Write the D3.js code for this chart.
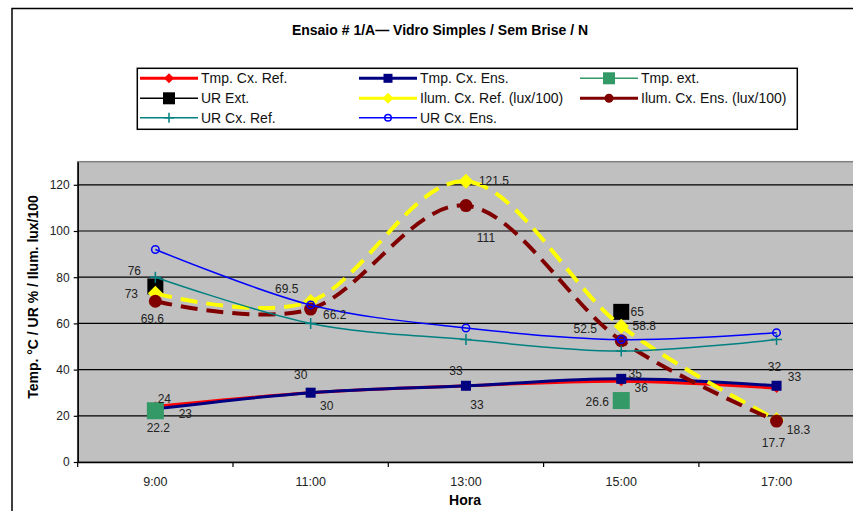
<!DOCTYPE html>
<html>
<head>
<meta charset="utf-8">
<script src="https://cdn.jsdelivr.net/npm/d3@7"></script>
<style>
  html, body { margin: 0; padding: 0; background: #ffffff; }
  svg { display: block; font-family: "Liberation Sans", Arial, Helvetica, sans-serif; }
</style>
</head>
<body>
<svg id="chart" width="853" height="511"></svg>
<script>
// ---------- data ----------
const title = "Ensaio # 1/A\u2014 Vidro Simples / Sem Brise / N";
const categories = ["9:00", "11:00", "13:00", "15:00", "17:00"];
const yTicks = [0, 20, 40, 60, 80, 100, 120];
const seriesNames = ["Tmp. Cx. Ref.", "Tmp. Cx. Ens.", "Tmp. ext.", "UR Ext.",
  "Ilum. Cx. Ref. (lux/100)", "Ilum. Cx. Ens. (lux/100)", "UR Cx. Ref.", "UR Cx. Ens."];
const tmpCxRef  = [24, 30, 33, 35, 32];
const tmpCxEns  = [23, 30, 33, 36, 33];
const tmpExt    = [22.2, null, null, 26.6, null];
const urExt     = [76, null, null, 65, null];
const ilumCxRef = [73, 69.5, 121.5, 58.8, 18.3];
const ilumCxEns = [69.6, 66.2, 111, 52.5, 17.7];
const urCxRef   = [80, 60, 53, 48, 53];
const urCxEns   = [92, 68, 58, 53, 56];
const yLabel = "Temp. \u00b0C / UR % / Ilum. lux/100";
const xLabel = "Hora";

// label offsets (layout only, px from the point)
const lblTmpCxRef  = [[9,-8],[-10,-18],[-10,-15],[14,-7],[-2,-21]];
const lblTmpCxEns  = [[30,5],[16,13],[11,19],[20,9],[18,-9]];
const lblTmpExt    = [[3,17],null,null,[-24,1],null];
const lblUrExt     = [[-21,-16],null,null,[16,0],null];
const lblIlumCxRef = [[-24,0],[-24,-13],[28,-1],[23,0],[22,10]];
const lblIlumCxEns = [[-3,18],[24,6],[20,32],[-36,-12],[-3,22]];

// ---------- styles ----------
const series = [
  {name: seriesNames[0], values: tmpCxRef,  color: "#ff0000", width: 3,   dash: null,  marker: "diamond", msize: 10, lwidth: 3,   labels: lblTmpCxRef, lmsize: 10},
  {name: seriesNames[1], values: tmpCxEns,  color: "#000080", width: 3,   dash: null,  marker: "square",  msize: 10, lwidth: 3,   labels: lblTmpCxEns, lmsize: 9},
  {name: seriesNames[2], values: tmpExt,    color: "#339966", width: 1.5, dash: null,  marker: "square",  msize: 17, lwidth: 1.5, labels: lblTmpExt, lmsize: 12},
  {name: seriesNames[3], values: urExt,     color: "#000000", width: 1.5, dash: null,  marker: "square",  msize: 16, lwidth: 1.5, labels: lblUrExt, lmsize: 12},
  {name: seriesNames[4], values: ilumCxRef, color: "#ffff00", width: 4,   dash: "17,9", marker: "diamond", msize: 15, lwidth: 3,  labels: lblIlumCxRef, lmsize: 11},
  {name: seriesNames[5], values: ilumCxEns, color: "#800000", width: 4,   dash: "17,9", marker: "circle",  msize: 13, lwidth: 3,  labels: lblIlumCxEns, lmsize: 9},
  {name: seriesNames[6], values: urCxRef,   color: "#008080", width: 1.5, dash: null,  marker: "plus",    msize: 11, lwidth: 1.5, labels: null, lmsize: 10},
  {name: seriesNames[7], values: urCxEns,   color: "#0000ff", width: 1.5, dash: null,  marker: "ocircle", msize: 9,  lwidth: 1.5, labels: null, lmsize: 8}
];

const svg = d3.select("#chart");
const plot = {left: 77.7, top: 161.7, right: 854.2, bottom: 462};

// outer frame
svg.append("rect").attr("x", 12).attr("y", 8.5).attr("width", 850).attr("height", 520)
  .attr("fill", "#fff").attr("stroke", "#000").attr("stroke-width", 1.5);

// title
svg.append("text").attr("x", 440).attr("y", 30).attr("dy", "0.35em")
  .attr("text-anchor", "middle").attr("font-size", 14).attr("font-weight", "bold")
  .text(title);

// scales
const x = d3.scaleBand().domain(categories).range([plot.left, plot.right]).paddingInner(0).paddingOuter(0);
const y = d3.scaleLinear().domain([0, 130]).range([plot.bottom, plot.top]);
const cx = c => x(c) + x.bandwidth() / 2;

// plot background
svg.append("rect").attr("x", plot.left).attr("y", plot.top)
  .attr("width", plot.right - plot.left).attr("height", plot.bottom - plot.top)
  .attr("fill", "#c0c0c0").attr("stroke", "#808080").attr("stroke-width", 1.5);

// gridlines
svg.append("g").selectAll("line").data(yTicks.filter(t => t > 0)).join("line")
  .attr("x1", plot.left).attr("x2", plot.right)
  .attr("y1", d => y(d)).attr("y2", d => y(d))
  .attr("stroke", "#000").attr("stroke-width", 1.2);

// y axis
const yAxis = svg.append("g").attr("transform", `translate(${plot.left},0)`)
  .call(d3.axisLeft(y).tickValues(yTicks).tickSize(4).tickPadding(4).tickSizeOuter(0));
yAxis.select(".domain").attr("stroke", "#000").attr("stroke-width", 1.5);
yAxis.selectAll(".tick line").attr("stroke-width", 1.2);
yAxis.selectAll("text").attr("font-size", 12).attr("font-family", "Liberation Sans, Arial, sans-serif").attr("fill", "#222");

// x axis
const xAxis = svg.append("g").attr("transform", `translate(0,${plot.bottom})`)
  .call(d3.axisBottom(x).tickSize(0).tickPadding(15).tickSizeOuter(0));
xAxis.select(".domain").attr("stroke", "#000").attr("stroke-width", 1.5);
xAxis.selectAll("text").attr("font-size", 12.5).attr("font-family", "Liberation Sans, Arial, sans-serif").attr("fill", "#222");
// tick marks between categories
svg.append("g").selectAll("line").data(categories).join("line")
  .attr("x1", d => x(d)).attr("x2", d => x(d))
  .attr("y1", plot.bottom).attr("y2", plot.bottom + 5)
  .attr("stroke", "#000").attr("stroke-width", 1.2);

// axis titles
svg.append("text").attr("transform", "translate(33,297) rotate(-90)").attr("dy", "0.35em")
  .attr("text-anchor", "middle").attr("font-size", 14).attr("font-weight", "bold").text(yLabel);
svg.append("text").attr("x", 465).attr("y", 500).attr("dy", "0.35em")
  .attr("text-anchor", "middle").attr("font-size", 14).attr("font-weight", "bold").text(xLabel);

// marker drawing
function drawMarker(g, type, px, py, size, color) {
  const h = size / 2;
  if (type === "diamond") {
    g.append("path").attr("d", `M${px},${py-h}L${px+h},${py}L${px},${py+h}L${px-h},${py}Z`).attr("fill", color);
  } else if (type === "square") {
    g.append("rect").attr("x", px-h).attr("y", py-h).attr("width", size).attr("height", size).attr("fill", color);
  } else if (type === "circle") {
    g.append("circle").attr("cx", px).attr("cy", py).attr("r", h).attr("fill", color);
  } else if (type === "ocircle") {
    g.append("circle").attr("cx", px).attr("cy", py).attr("r", h - 0.75).attr("fill", "none")
      .attr("stroke", color).attr("stroke-width", 1.5);
  } else if (type === "plus") {
    g.append("path").attr("d", `M${px-h},${py}H${px+h}M${px},${py-h}V${py+h}`)
      .attr("stroke", color).attr("stroke-width", 1.5).attr("fill", "none");
  }
}

// series lines + markers
const line = d3.line()
  .x(d => cx(d.c)).y(d => y(d.v))
  .curve(d3.curveCatmullRom.alpha(0));

series.forEach(s => {
  const pts = categories.map((c, i) => ({c, v: s.values[i]}));
  const g = svg.append("g");
  if (pts.every(p => p.v !== null)) {
    g.append("path").attr("d", line(pts)).attr("fill", "none")
      .attr("stroke", s.color).attr("stroke-width", s.width)
      .attr("stroke-dasharray", s.dash).attr("stroke-linejoin", "round");
  }
  pts.forEach(p => { if (p.v !== null) drawMarker(g, s.marker, cx(p.c), y(p.v), s.msize, s.color); });
});

// data labels
series.forEach(s => {
  if (!s.labels) return;
  categories.forEach((c, i) => {
    const v = s.values[i], off = s.labels[i];
    if (v === null || !off) return;
    svg.append("text").attr("x", cx(c) + off[0]).attr("y", y(v) + off[1]).attr("dy", "0.35em")
      .attr("text-anchor", "middle").attr("font-size", 12).attr("fill", "#222").text(v);
  });
});

// legend
const legend = svg.append("g");
legend.append("rect").attr("x", 137.3).attr("y", 68.3).attr("width", 660).attr("height", 61)
  .attr("fill", "#fff").attr("stroke", "#000").attr("stroke-width", 1.5);
const colX = [140, 359, 580];
const rowY = [78.3, 98.3, 117.7];
series.forEach((s, i) => {
  const lx = colX[i % 3], ly = rowY[Math.floor(i / 3)];
  legend.append("line").attr("x1", lx).attr("x2", lx + 58).attr("y1", ly).attr("y2", ly)
    .attr("stroke", s.color).attr("stroke-width", s.lwidth);
  drawMarker(legend, s.marker, lx + 29, ly, s.lmsize, s.color);
  legend.append("text").attr("x", lx + 61).attr("y", ly).attr("dy", "0.35em")
    .attr("font-size", 14).attr("fill", "#111").text(s.name);
});
</script>
</body>
</html>
